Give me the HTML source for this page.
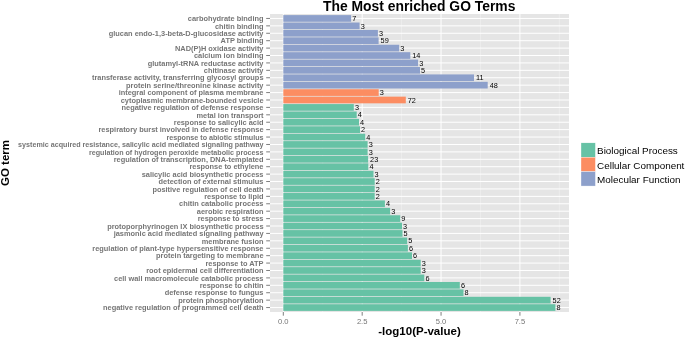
<!DOCTYPE html><html><head><meta charset="utf-8"><style>html,body{margin:0;padding:0;background:#fff}svg{display:block;will-change:transform}text{font-family:"Liberation Sans",sans-serif}</style></head><body>
<svg width="685" height="338" viewBox="0 0 685 338">
<rect width="685" height="338" fill="#fff"/>
<rect x="270.0" y="14.0" width="299.0" height="298.0" fill="#E5E5E5"/>
<line x1="322.74" x2="322.74" y1="14.0" y2="312.0" stroke="#F2F2F2" stroke-width="0.6"/>
<line x1="401.61" x2="401.61" y1="14.0" y2="312.0" stroke="#F2F2F2" stroke-width="0.6"/>
<line x1="480.49" x2="480.49" y1="14.0" y2="312.0" stroke="#F2F2F2" stroke-width="0.6"/>
<line x1="559.36" x2="559.36" y1="14.0" y2="312.0" stroke="#F2F2F2" stroke-width="0.6"/>
<line x1="283.30" x2="283.30" y1="14.0" y2="312.0" stroke="#fff" stroke-width="1"/>
<line x1="362.18" x2="362.18" y1="14.0" y2="312.0" stroke="#fff" stroke-width="1"/>
<line x1="441.05" x2="441.05" y1="14.0" y2="312.0" stroke="#fff" stroke-width="1"/>
<line x1="519.92" x2="519.92" y1="14.0" y2="312.0" stroke="#fff" stroke-width="1"/>
<line x1="270.0" x2="569.0" y1="18.45" y2="18.45" stroke="#fff" stroke-width="1"/>
<line x1="270.0" x2="569.0" y1="25.86" y2="25.86" stroke="#fff" stroke-width="1"/>
<line x1="270.0" x2="569.0" y1="33.27" y2="33.27" stroke="#fff" stroke-width="1"/>
<line x1="270.0" x2="569.0" y1="40.69" y2="40.69" stroke="#fff" stroke-width="1"/>
<line x1="270.0" x2="569.0" y1="48.10" y2="48.10" stroke="#fff" stroke-width="1"/>
<line x1="270.0" x2="569.0" y1="55.51" y2="55.51" stroke="#fff" stroke-width="1"/>
<line x1="270.0" x2="569.0" y1="62.93" y2="62.93" stroke="#fff" stroke-width="1"/>
<line x1="270.0" x2="569.0" y1="70.34" y2="70.34" stroke="#fff" stroke-width="1"/>
<line x1="270.0" x2="569.0" y1="77.75" y2="77.75" stroke="#fff" stroke-width="1"/>
<line x1="270.0" x2="569.0" y1="85.16" y2="85.16" stroke="#fff" stroke-width="1"/>
<line x1="270.0" x2="569.0" y1="92.58" y2="92.58" stroke="#fff" stroke-width="1"/>
<line x1="270.0" x2="569.0" y1="99.99" y2="99.99" stroke="#fff" stroke-width="1"/>
<line x1="270.0" x2="569.0" y1="107.40" y2="107.40" stroke="#fff" stroke-width="1"/>
<line x1="270.0" x2="569.0" y1="114.82" y2="114.82" stroke="#fff" stroke-width="1"/>
<line x1="270.0" x2="569.0" y1="122.23" y2="122.23" stroke="#fff" stroke-width="1"/>
<line x1="270.0" x2="569.0" y1="129.64" y2="129.64" stroke="#fff" stroke-width="1"/>
<line x1="270.0" x2="569.0" y1="137.05" y2="137.05" stroke="#fff" stroke-width="1"/>
<line x1="270.0" x2="569.0" y1="144.47" y2="144.47" stroke="#fff" stroke-width="1"/>
<line x1="270.0" x2="569.0" y1="151.88" y2="151.88" stroke="#fff" stroke-width="1"/>
<line x1="270.0" x2="569.0" y1="159.29" y2="159.29" stroke="#fff" stroke-width="1"/>
<line x1="270.0" x2="569.0" y1="166.71" y2="166.71" stroke="#fff" stroke-width="1"/>
<line x1="270.0" x2="569.0" y1="174.12" y2="174.12" stroke="#fff" stroke-width="1"/>
<line x1="270.0" x2="569.0" y1="181.53" y2="181.53" stroke="#fff" stroke-width="1"/>
<line x1="270.0" x2="569.0" y1="188.95" y2="188.95" stroke="#fff" stroke-width="1"/>
<line x1="270.0" x2="569.0" y1="196.36" y2="196.36" stroke="#fff" stroke-width="1"/>
<line x1="270.0" x2="569.0" y1="203.77" y2="203.77" stroke="#fff" stroke-width="1"/>
<line x1="270.0" x2="569.0" y1="211.18" y2="211.18" stroke="#fff" stroke-width="1"/>
<line x1="270.0" x2="569.0" y1="218.60" y2="218.60" stroke="#fff" stroke-width="1"/>
<line x1="270.0" x2="569.0" y1="226.01" y2="226.01" stroke="#fff" stroke-width="1"/>
<line x1="270.0" x2="569.0" y1="233.42" y2="233.42" stroke="#fff" stroke-width="1"/>
<line x1="270.0" x2="569.0" y1="240.84" y2="240.84" stroke="#fff" stroke-width="1"/>
<line x1="270.0" x2="569.0" y1="248.25" y2="248.25" stroke="#fff" stroke-width="1"/>
<line x1="270.0" x2="569.0" y1="255.66" y2="255.66" stroke="#fff" stroke-width="1"/>
<line x1="270.0" x2="569.0" y1="263.07" y2="263.07" stroke="#fff" stroke-width="1"/>
<line x1="270.0" x2="569.0" y1="270.49" y2="270.49" stroke="#fff" stroke-width="1"/>
<line x1="270.0" x2="569.0" y1="277.90" y2="277.90" stroke="#fff" stroke-width="1"/>
<line x1="270.0" x2="569.0" y1="285.31" y2="285.31" stroke="#fff" stroke-width="1"/>
<line x1="270.0" x2="569.0" y1="292.73" y2="292.73" stroke="#fff" stroke-width="1"/>
<line x1="270.0" x2="569.0" y1="300.14" y2="300.14" stroke="#fff" stroke-width="1"/>
<line x1="270.0" x2="569.0" y1="307.55" y2="307.55" stroke="#fff" stroke-width="1"/>
<rect x="283.3" y="15.11" width="67.80" height="6.67" fill="#8DA0CB"/>
<text x="352.20" y="21.10" font-size="7.3" fill="#000">7</text>
<text x="263.5" y="21.15" font-size="7.42" font-weight="bold" fill="#767676" text-anchor="end">carbohydrate binding</text>
<line x1="266.2" x2="270.0" y1="18.45" y2="18.45" stroke="#7F7F7F" stroke-width="1"/>
<rect x="283.3" y="22.52" width="76.30" height="6.67" fill="#8DA0CB"/>
<text x="360.70" y="28.51" font-size="7.3" fill="#000">3</text>
<text x="263.5" y="28.56" font-size="7.42" font-weight="bold" fill="#767676" text-anchor="end">chitin binding</text>
<line x1="266.2" x2="270.0" y1="25.86" y2="25.86" stroke="#7F7F7F" stroke-width="1"/>
<rect x="283.3" y="29.94" width="94.60" height="6.67" fill="#8DA0CB"/>
<text x="379.00" y="35.92" font-size="7.3" fill="#000">3</text>
<text x="263.5" y="35.97" font-size="7.42" font-weight="bold" fill="#767676" text-anchor="end">glucan endo-1,3-beta-D-glucosidase activity</text>
<line x1="266.2" x2="270.0" y1="33.27" y2="33.27" stroke="#7F7F7F" stroke-width="1"/>
<rect x="283.3" y="37.35" width="95.30" height="6.67" fill="#8DA0CB"/>
<text x="380.60" y="43.34" font-size="7.3" fill="#000">59</text>
<text x="263.5" y="43.39" font-size="7.42" font-weight="bold" fill="#767676" text-anchor="end">ATP binding</text>
<line x1="266.2" x2="270.0" y1="40.69" y2="40.69" stroke="#7F7F7F" stroke-width="1"/>
<rect x="283.3" y="44.76" width="115.90" height="6.67" fill="#8DA0CB"/>
<text x="400.30" y="50.75" font-size="7.3" fill="#000">3</text>
<text x="263.5" y="50.80" font-size="7.42" font-weight="bold" fill="#767676" text-anchor="end">NAD(P)H oxidase activity</text>
<line x1="266.2" x2="270.0" y1="48.10" y2="48.10" stroke="#7F7F7F" stroke-width="1"/>
<rect x="283.3" y="52.18" width="127.00" height="6.67" fill="#8DA0CB"/>
<text x="412.30" y="58.16" font-size="7.3" fill="#000">14</text>
<text x="263.5" y="58.21" font-size="7.42" font-weight="bold" fill="#767676" text-anchor="end">calcium ion binding</text>
<line x1="266.2" x2="270.0" y1="55.51" y2="55.51" stroke="#7F7F7F" stroke-width="1"/>
<rect x="283.3" y="59.59" width="134.80" height="6.67" fill="#8DA0CB"/>
<text x="419.20" y="65.58" font-size="7.3" fill="#000">3</text>
<text x="263.5" y="65.63" font-size="7.42" font-weight="bold" fill="#767676" text-anchor="end">glutamyl-tRNA reductase activity</text>
<line x1="266.2" x2="270.0" y1="62.93" y2="62.93" stroke="#7F7F7F" stroke-width="1"/>
<rect x="283.3" y="67.00" width="136.70" height="6.67" fill="#8DA0CB"/>
<text x="421.10" y="72.99" font-size="7.3" fill="#000">5</text>
<text x="263.5" y="73.04" font-size="7.42" font-weight="bold" fill="#767676" text-anchor="end">chitinase activity</text>
<line x1="266.2" x2="270.0" y1="70.34" y2="70.34" stroke="#7F7F7F" stroke-width="1"/>
<rect x="283.3" y="74.42" width="190.70" height="6.67" fill="#8DA0CB"/>
<text x="476.00" y="80.40" font-size="7.3" fill="#000">11</text>
<text x="263.5" y="80.45" font-size="7.42" font-weight="bold" fill="#767676" text-anchor="end">transferase activity, transferring glycosyl groups</text>
<line x1="266.2" x2="270.0" y1="77.75" y2="77.75" stroke="#7F7F7F" stroke-width="1"/>
<rect x="283.3" y="81.83" width="204.40" height="6.67" fill="#8DA0CB"/>
<text x="489.70" y="87.81" font-size="7.3" fill="#000">48</text>
<text x="263.5" y="87.86" font-size="7.42" font-weight="bold" fill="#767676" text-anchor="end">protein serine/threonine kinase activity</text>
<line x1="266.2" x2="270.0" y1="85.16" y2="85.16" stroke="#7F7F7F" stroke-width="1"/>
<rect x="283.3" y="89.24" width="95.40" height="6.67" fill="#FC8D62"/>
<text x="379.80" y="95.23" font-size="7.3" fill="#000">3</text>
<text x="263.5" y="95.28" font-size="7.42" font-weight="bold" fill="#767676" text-anchor="end">integral component of plasma membrane</text>
<line x1="266.2" x2="270.0" y1="92.58" y2="92.58" stroke="#7F7F7F" stroke-width="1"/>
<rect x="283.3" y="96.65" width="122.50" height="6.67" fill="#FC8D62"/>
<text x="407.80" y="102.64" font-size="7.3" fill="#000">72</text>
<text x="263.5" y="102.69" font-size="7.42" font-weight="bold" fill="#767676" text-anchor="end">cytoplasmic membrane-bounded vesicle</text>
<line x1="266.2" x2="270.0" y1="99.99" y2="99.99" stroke="#7F7F7F" stroke-width="1"/>
<rect x="283.3" y="104.07" width="70.50" height="6.67" fill="#66C2A5"/>
<text x="354.90" y="110.05" font-size="7.3" fill="#000">3</text>
<text x="263.5" y="110.10" font-size="7.42" font-weight="bold" fill="#767676" text-anchor="end">negative regulation of defense response</text>
<line x1="266.2" x2="270.0" y1="107.40" y2="107.40" stroke="#7F7F7F" stroke-width="1"/>
<rect x="283.3" y="111.48" width="73.40" height="6.67" fill="#66C2A5"/>
<text x="357.80" y="117.47" font-size="7.3" fill="#000">4</text>
<text x="263.5" y="117.52" font-size="7.42" font-weight="bold" fill="#767676" text-anchor="end">metal ion transport</text>
<line x1="266.2" x2="270.0" y1="114.82" y2="114.82" stroke="#7F7F7F" stroke-width="1"/>
<rect x="283.3" y="118.89" width="75.70" height="6.67" fill="#66C2A5"/>
<text x="360.10" y="124.88" font-size="7.3" fill="#000">4</text>
<text x="263.5" y="124.93" font-size="7.42" font-weight="bold" fill="#767676" text-anchor="end">response to salicylic acid</text>
<line x1="266.2" x2="270.0" y1="122.23" y2="122.23" stroke="#7F7F7F" stroke-width="1"/>
<rect x="283.3" y="126.31" width="76.70" height="6.67" fill="#66C2A5"/>
<text x="361.10" y="132.29" font-size="7.3" fill="#000">2</text>
<text x="263.5" y="132.34" font-size="7.42" font-weight="bold" fill="#767676" text-anchor="end">respiratory burst involved in defense response</text>
<line x1="266.2" x2="270.0" y1="129.64" y2="129.64" stroke="#7F7F7F" stroke-width="1"/>
<rect x="283.3" y="133.72" width="81.90" height="6.67" fill="#66C2A5"/>
<text x="366.30" y="139.70" font-size="7.3" fill="#000">4</text>
<text x="263.5" y="139.75" font-size="7.16" font-weight="bold" fill="#767676" text-anchor="end">response to abiotic stimulus</text>
<line x1="266.2" x2="270.0" y1="137.05" y2="137.05" stroke="#7F7F7F" stroke-width="1"/>
<rect x="283.3" y="141.13" width="84.30" height="6.67" fill="#66C2A5"/>
<text x="368.70" y="147.12" font-size="7.3" fill="#000">3</text>
<text x="263.5" y="147.17" font-size="7.16" font-weight="bold" fill="#767676" text-anchor="end">systemic acquired resistance, salicylic acid mediated signaling pathway</text>
<line x1="266.2" x2="270.0" y1="144.47" y2="144.47" stroke="#7F7F7F" stroke-width="1"/>
<rect x="283.3" y="148.54" width="84.30" height="6.67" fill="#66C2A5"/>
<text x="368.70" y="154.53" font-size="7.3" fill="#000">3</text>
<text x="263.5" y="154.58" font-size="7.16" font-weight="bold" fill="#767676" text-anchor="end">regulation of hydrogen peroxide metabolic process</text>
<line x1="266.2" x2="270.0" y1="151.88" y2="151.88" stroke="#7F7F7F" stroke-width="1"/>
<rect x="283.3" y="155.96" width="84.80" height="6.67" fill="#66C2A5"/>
<text x="370.10" y="161.94" font-size="7.3" fill="#000">23</text>
<text x="263.5" y="161.99" font-size="7.42" font-weight="bold" fill="#767676" text-anchor="end">regulation of transcription, DNA-templated</text>
<line x1="266.2" x2="270.0" y1="159.29" y2="159.29" stroke="#7F7F7F" stroke-width="1"/>
<rect x="283.3" y="163.37" width="85.00" height="6.67" fill="#66C2A5"/>
<text x="369.40" y="169.36" font-size="7.3" fill="#000">4</text>
<text x="263.5" y="169.41" font-size="7.42" font-weight="bold" fill="#767676" text-anchor="end">response to ethylene</text>
<line x1="266.2" x2="270.0" y1="166.71" y2="166.71" stroke="#7F7F7F" stroke-width="1"/>
<rect x="283.3" y="170.78" width="90.20" height="6.67" fill="#66C2A5"/>
<text x="374.60" y="176.77" font-size="7.3" fill="#000">3</text>
<text x="263.5" y="176.82" font-size="7.42" font-weight="bold" fill="#767676" text-anchor="end">salicylic acid biosynthetic process</text>
<line x1="266.2" x2="270.0" y1="174.12" y2="174.12" stroke="#7F7F7F" stroke-width="1"/>
<rect x="283.3" y="178.20" width="91.40" height="6.67" fill="#66C2A5"/>
<text x="375.80" y="184.18" font-size="7.3" fill="#000">2</text>
<text x="263.5" y="184.23" font-size="7.42" font-weight="bold" fill="#767676" text-anchor="end">detection of external stimulus</text>
<line x1="266.2" x2="270.0" y1="181.53" y2="181.53" stroke="#7F7F7F" stroke-width="1"/>
<rect x="283.3" y="185.61" width="91.40" height="6.67" fill="#66C2A5"/>
<text x="375.80" y="191.60" font-size="7.3" fill="#000">2</text>
<text x="263.5" y="191.65" font-size="7.42" font-weight="bold" fill="#767676" text-anchor="end">positive regulation of cell death</text>
<line x1="266.2" x2="270.0" y1="188.95" y2="188.95" stroke="#7F7F7F" stroke-width="1"/>
<rect x="283.3" y="193.02" width="91.40" height="6.67" fill="#66C2A5"/>
<text x="375.80" y="199.01" font-size="7.3" fill="#000">2</text>
<text x="263.5" y="199.06" font-size="7.42" font-weight="bold" fill="#767676" text-anchor="end">response to lipid</text>
<line x1="266.2" x2="270.0" y1="196.36" y2="196.36" stroke="#7F7F7F" stroke-width="1"/>
<rect x="283.3" y="200.44" width="101.60" height="6.67" fill="#66C2A5"/>
<text x="386.00" y="206.42" font-size="7.3" fill="#000">4</text>
<text x="263.5" y="206.47" font-size="7.42" font-weight="bold" fill="#767676" text-anchor="end">chitin catabolic process</text>
<line x1="266.2" x2="270.0" y1="203.77" y2="203.77" stroke="#7F7F7F" stroke-width="1"/>
<rect x="283.3" y="207.85" width="106.80" height="6.67" fill="#66C2A5"/>
<text x="391.20" y="213.83" font-size="7.3" fill="#000">3</text>
<text x="263.5" y="213.88" font-size="7.42" font-weight="bold" fill="#767676" text-anchor="end">aerobic respiration</text>
<line x1="266.2" x2="270.0" y1="211.18" y2="211.18" stroke="#7F7F7F" stroke-width="1"/>
<rect x="283.3" y="215.26" width="116.90" height="6.67" fill="#66C2A5"/>
<text x="401.30" y="221.25" font-size="7.3" fill="#000">9</text>
<text x="263.5" y="221.30" font-size="7.42" font-weight="bold" fill="#767676" text-anchor="end">response to stress</text>
<line x1="266.2" x2="270.0" y1="218.60" y2="218.60" stroke="#7F7F7F" stroke-width="1"/>
<rect x="283.3" y="222.67" width="118.70" height="6.67" fill="#66C2A5"/>
<text x="403.10" y="228.66" font-size="7.3" fill="#000">3</text>
<text x="263.5" y="228.71" font-size="7.42" font-weight="bold" fill="#767676" text-anchor="end">protoporphyrinogen IX biosynthetic process</text>
<line x1="266.2" x2="270.0" y1="226.01" y2="226.01" stroke="#7F7F7F" stroke-width="1"/>
<rect x="283.3" y="230.09" width="119.20" height="6.67" fill="#66C2A5"/>
<text x="403.60" y="236.07" font-size="7.3" fill="#000">5</text>
<text x="263.5" y="236.12" font-size="7.42" font-weight="bold" fill="#767676" text-anchor="end">jasmonic acid mediated signaling pathway</text>
<line x1="266.2" x2="270.0" y1="233.42" y2="233.42" stroke="#7F7F7F" stroke-width="1"/>
<rect x="283.3" y="237.50" width="123.90" height="6.67" fill="#66C2A5"/>
<text x="408.30" y="243.49" font-size="7.3" fill="#000">5</text>
<text x="263.5" y="243.54" font-size="7.42" font-weight="bold" fill="#767676" text-anchor="end">membrane fusion</text>
<line x1="266.2" x2="270.0" y1="240.84" y2="240.84" stroke="#7F7F7F" stroke-width="1"/>
<rect x="283.3" y="244.91" width="124.60" height="6.67" fill="#66C2A5"/>
<text x="409.00" y="250.90" font-size="7.3" fill="#000">6</text>
<text x="263.5" y="250.95" font-size="7.42" font-weight="bold" fill="#767676" text-anchor="end">regulation of plant-type hypersensitive response</text>
<line x1="266.2" x2="270.0" y1="248.25" y2="248.25" stroke="#7F7F7F" stroke-width="1"/>
<rect x="283.3" y="252.33" width="128.70" height="6.67" fill="#66C2A5"/>
<text x="413.10" y="258.31" font-size="7.3" fill="#000">6</text>
<text x="263.5" y="258.36" font-size="7.42" font-weight="bold" fill="#767676" text-anchor="end">protein targeting to membrane</text>
<line x1="266.2" x2="270.0" y1="255.66" y2="255.66" stroke="#7F7F7F" stroke-width="1"/>
<rect x="283.3" y="259.74" width="137.40" height="6.67" fill="#66C2A5"/>
<text x="421.80" y="265.72" font-size="7.3" fill="#000">3</text>
<text x="263.5" y="265.77" font-size="7.42" font-weight="bold" fill="#767676" text-anchor="end">response to ATP</text>
<line x1="266.2" x2="270.0" y1="263.07" y2="263.07" stroke="#7F7F7F" stroke-width="1"/>
<rect x="283.3" y="267.15" width="137.40" height="6.67" fill="#66C2A5"/>
<text x="421.80" y="273.14" font-size="7.3" fill="#000">3</text>
<text x="263.5" y="273.19" font-size="7.42" font-weight="bold" fill="#767676" text-anchor="end">root epidermal cell differentiation</text>
<line x1="266.2" x2="270.0" y1="270.49" y2="270.49" stroke="#7F7F7F" stroke-width="1"/>
<rect x="283.3" y="274.56" width="141.00" height="6.67" fill="#66C2A5"/>
<text x="425.40" y="280.55" font-size="7.3" fill="#000">6</text>
<text x="263.5" y="280.60" font-size="7.42" font-weight="bold" fill="#767676" text-anchor="end">cell wall macromolecule catabolic process</text>
<line x1="266.2" x2="270.0" y1="277.90" y2="277.90" stroke="#7F7F7F" stroke-width="1"/>
<rect x="283.3" y="281.98" width="176.50" height="6.67" fill="#66C2A5"/>
<text x="460.90" y="287.96" font-size="7.3" fill="#000">6</text>
<text x="263.5" y="288.01" font-size="7.42" font-weight="bold" fill="#767676" text-anchor="end">response to chitin</text>
<line x1="266.2" x2="270.0" y1="285.31" y2="285.31" stroke="#7F7F7F" stroke-width="1"/>
<rect x="283.3" y="289.39" width="180.20" height="6.67" fill="#66C2A5"/>
<text x="464.60" y="295.38" font-size="7.3" fill="#000">8</text>
<text x="263.5" y="295.43" font-size="7.42" font-weight="bold" fill="#767676" text-anchor="end">defense response to fungus</text>
<line x1="266.2" x2="270.0" y1="292.73" y2="292.73" stroke="#7F7F7F" stroke-width="1"/>
<rect x="283.3" y="296.80" width="267.30" height="6.67" fill="#66C2A5"/>
<text x="552.60" y="302.79" font-size="7.3" fill="#000">52</text>
<text x="263.5" y="302.84" font-size="7.42" font-weight="bold" fill="#767676" text-anchor="end">protein phosphorylation</text>
<line x1="266.2" x2="270.0" y1="300.14" y2="300.14" stroke="#7F7F7F" stroke-width="1"/>
<rect x="283.3" y="304.22" width="272.10" height="6.67" fill="#66C2A5"/>
<text x="556.50" y="310.20" font-size="7.3" fill="#000">8</text>
<text x="263.5" y="310.25" font-size="7.42" font-weight="bold" fill="#767676" text-anchor="end">negative regulation of programmed cell death</text>
<line x1="266.2" x2="270.0" y1="307.55" y2="307.55" stroke="#7F7F7F" stroke-width="1"/>
<line x1="283.30" x2="283.30" y1="312.0" y2="315.7" stroke="#7F7F7F" stroke-width="1"/>
<text x="283.30" y="323.9" font-size="7.6" fill="#757575" text-anchor="middle">0.0</text>
<line x1="362.18" x2="362.18" y1="312.0" y2="315.7" stroke="#7F7F7F" stroke-width="1"/>
<text x="362.18" y="323.9" font-size="7.6" fill="#757575" text-anchor="middle">2.5</text>
<line x1="441.05" x2="441.05" y1="312.0" y2="315.7" stroke="#7F7F7F" stroke-width="1"/>
<text x="441.05" y="323.9" font-size="7.6" fill="#757575" text-anchor="middle">5.0</text>
<line x1="519.92" x2="519.92" y1="312.0" y2="315.7" stroke="#7F7F7F" stroke-width="1"/>
<text x="519.92" y="323.9" font-size="7.6" fill="#757575" text-anchor="middle">7.5</text>
<text x="419.2" y="10.9" font-size="13.88" font-weight="bold" fill="#000" text-anchor="middle">The Most enriched GO Terms</text>
<text x="419.5" y="334.5" font-size="11.5" font-weight="bold" fill="#000" text-anchor="middle">-log10(P-value)</text>
<text transform="translate(8.9,163) rotate(-90)" font-size="11.5" font-weight="bold" fill="#000" text-anchor="middle">GO term</text>
<rect x="581.0" y="142.85" width="14.4" height="14.4" fill="#66C2A5" stroke="#fff" stroke-width="0.35"/>
<text x="597.1" y="154.15" font-size="9.9" fill="#000">Biological Process</text>
<rect x="581.0" y="157.25" width="14.4" height="14.4" fill="#FC8D62" stroke="#fff" stroke-width="0.35"/>
<text x="597.1" y="168.55" font-size="9.9" fill="#000">Cellular Component</text>
<rect x="581.0" y="171.65" width="14.4" height="14.4" fill="#8DA0CB" stroke="#fff" stroke-width="0.35"/>
<text x="597.1" y="182.95" font-size="9.9" fill="#000">Molecular Function</text>
</svg></body></html>
